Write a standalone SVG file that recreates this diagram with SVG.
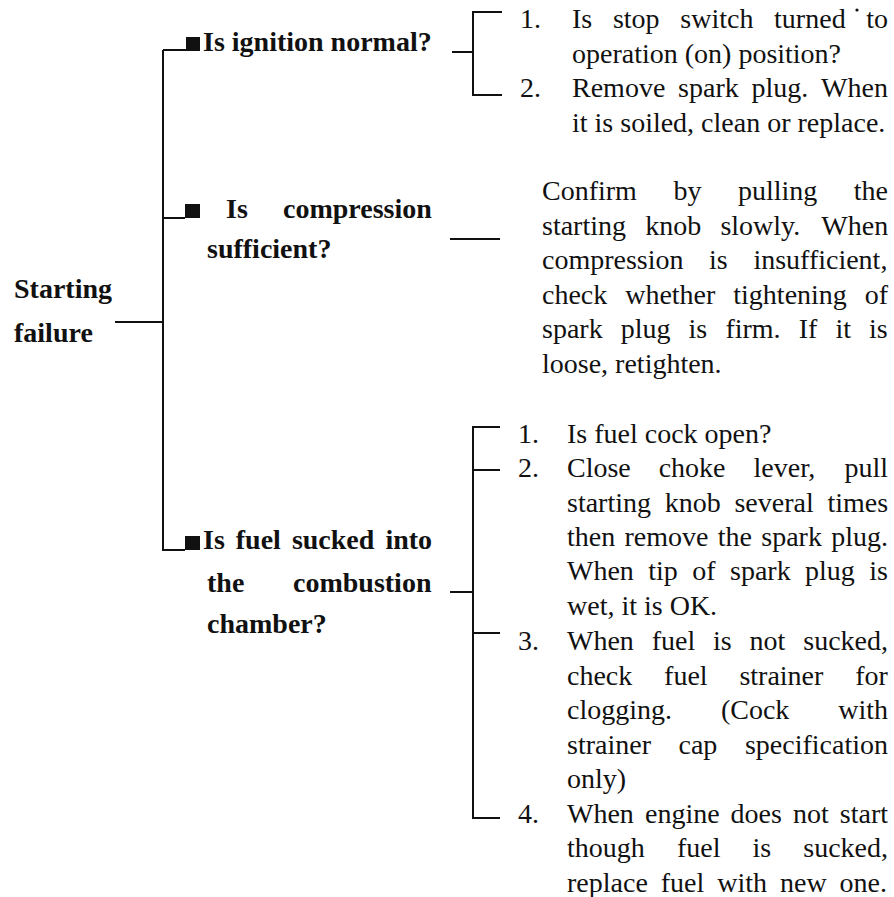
<svg xmlns="http://www.w3.org/2000/svg" width="894" height="897" viewBox="0 0 894 897">
<style>
.b{font-family:"Liberation Serif","Times New Roman",serif;font-weight:bold;font-size:28px;fill:#111}
.r{font-family:"Liberation Serif","Times New Roman",serif;font-size:28px;fill:#111}
.c{fill:none;stroke:#111;stroke-width:2}
.m{fill:#111}
</style>
<rect width="894" height="897" fill="#fff"/>
<g id="connectors" class="c">
<path d="M115,322 H163"/>
<path d="M163,50 V551"/>
<path d="M163,50 H186"/>
<path d="M163,218 H185"/>
<path d="M163,550 H185"/>
<path d="M452,52 H473"/>
<path d="M502,12 H473 V95 H502"/>
<path d="M450,239 H500"/>
<path d="M450,592 H473"/>
<path d="M500,427 H473 V818 H500"/>
<path d="M473,470 H500"/>
<path d="M473,633 H500"/>
</g>
<g id="root">
<text class="b" x="14" y="298">Starting</text>
<text class="b" x="14" y="342">failure</text>
</g>
<g id="q-ignition">
<rect class="m" x="186" y="37" width="14" height="14"/>
<text class="b" x="203" y="51">Is ignition normal?</text>
</g>
<g id="q-compression">
<rect class="m" x="185" y="204" width="15" height="14"/>
<text class="b" y="218"><tspan x="226">Is</tspan><tspan x="283">compression</tspan></text>
<text class="b" x="207" y="258">sufficient?</text>
</g>
<g id="q-fuel">
<rect class="m" x="185" y="536" width="15" height="14"/>
<text class="b" y="549"><tspan x="203">Is</tspan><tspan x="235.8">fuel</tspan><tspan x="291.9">sucked</tspan><tspan x="385.4">into</tspan></text>
<text class="b" y="592"><tspan x="207">the</tspan><tspan x="293">combustion</tspan></text>
<text class="b" x="207" y="633">chamber?</text>
</g>
<g id="a-ignition">
<text class="r" x="520" y="28">1.</text>
<text class="r" y="28"><tspan x="572">Is</tspan><tspan x="612.9">stop</tspan><tspan x="680.3">switch</tspan><tspan x="774.1">turned</tspan><tspan x="866.3">to</tspan></text>
<circle class="m" cx="857" cy="10" r="1.6"/>
<text class="r" x="572" y="63">operation (on) position?</text>
<text class="r" x="520" y="97">2.</text>
<text class="r" y="97"><tspan x="572">Remove</tspan><tspan x="678.1">spark</tspan><tspan x="751.5">plug.</tspan><tspan x="821.1">When</tspan></text>
<text class="r" x="572" y="132">it is soiled, clean or replace.</text>
</g>
<g id="a-compression">
<text class="r" y="200"><tspan x="542">Confirm</tspan><tspan x="673.4">by</tspan><tspan x="737.9">pulling</tspan><tspan x="853.8">the</tspan></text>
<text class="r" y="235"><tspan x="542">starting</tspan><tspan x="645.2">knob</tspan><tspan x="720.4">slowly.</tspan><tspan x="821.3">When</tspan></text>
<text class="r" y="269"><tspan x="542">compression</tspan><tspan x="709.1">is</tspan><tspan x="753.4">insufficient,</tspan></text>
<text class="r" y="304"><tspan x="542">check</tspan><tspan x="625.2">whether</tspan><tspan x="733.3">tightening</tspan><tspan x="864.8">of</tspan></text>
<text class="r" y="338"><tspan x="542">spark</tspan><tspan x="620.7">plug</tspan><tspan x="688.6">is</tspan><tspan x="725.4">firm.</tspan><tspan x="798.7">If</tspan><tspan x="835.4">it</tspan><tspan x="869.1">is</tspan></text>
<text class="r" x="542" y="373">loose, retighten.</text>
</g>
<g id="a-fuel">
<text class="r" x="518" y="443">1.</text>
<text class="r" x="567" y="443">Is fuel cock open?</text>
<text class="r" x="518" y="477">2.</text>
<text class="r" y="477"><tspan x="567">Close</tspan><tspan x="658.7">choke</tspan><tspan x="753.5">lever,</tspan><tspan x="844.4">pull</tspan></text>
<text class="r" y="512"><tspan x="567">starting</tspan><tspan x="664.7">knob</tspan><tspan x="734.4">several</tspan><tspan x="827.4">times</tspan></text>
<text class="r" y="546"><tspan x="567">then</tspan><tspan x="624.5">remove</tspan><tspan x="717.8">the</tspan><tspan x="761.3">spark</tspan><tspan x="831.2">plug.</tspan></text>
<text class="r" y="580"><tspan x="567">When</tspan><tspan x="648.3">tip</tspan><tspan x="692.3">of</tspan><tspan x="730">spark</tspan><tspan x="805">plug</tspan><tspan x="869.2">is</tspan></text>
<text class="r" x="567" y="615">wet, it is OK.</text>
<text class="r" x="518" y="650">3.</text>
<text class="r" y="650"><tspan x="567">When</tspan><tspan x="651.7">fuel</tspan><tspan x="713.1">is</tspan><tspan x="749.6">not</tspan><tspan x="803.3">sucked,</tspan></text>
<text class="r" y="685"><tspan x="567">check</tspan><tspan x="664.1">fuel</tspan><tspan x="739.4">strainer</tspan><tspan x="855.2">for</tspan></text>
<text class="r" y="719"><tspan x="567">clogging.</tspan><tspan x="720.9">(Cock</tspan><tspan x="838.2">with</tspan></text>
<text class="r" y="754"><tspan x="567">strainer</tspan><tspan x="678.5">cap</tspan><tspan x="744.9">specification</tspan></text>
<text class="r" x="567" y="788">only)</text>
<text class="r" x="518" y="823">4.</text>
<text class="r" y="823"><tspan x="567">When</tspan><tspan x="645">engine</tspan><tspan x="730.6">does</tspan><tspan x="793">not</tspan><tspan x="839.8">start</tspan></text>
<text class="r" y="857"><tspan x="567">though</tspan><tspan x="676.9">fuel</tspan><tspan x="752.5">is</tspan><tspan x="803.3">sucked,</tspan></text>
<text class="r" y="892"><tspan x="567">replace</tspan><tspan x="660.8">fuel</tspan><tspan x="717.2">with</tspan><tspan x="780">new</tspan><tspan x="839.6">one.</tspan></text>
</g>
</svg>
